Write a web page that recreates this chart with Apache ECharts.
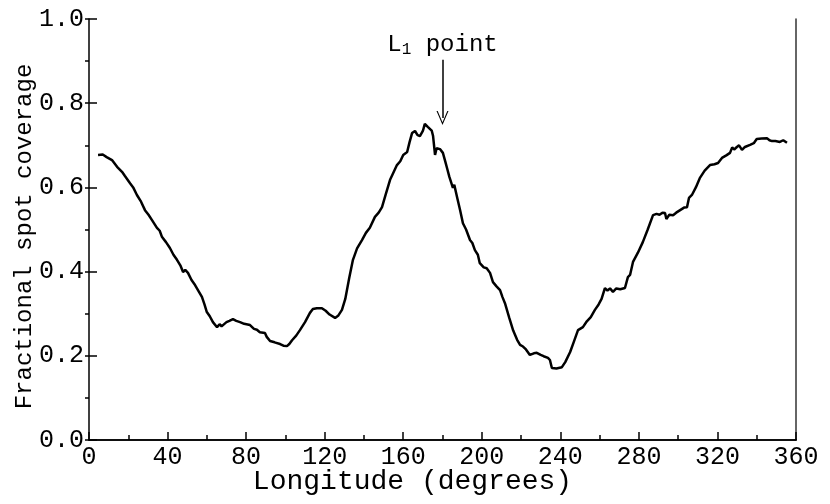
<!DOCTYPE html>
<html>
<head>
<meta charset="utf-8">
<script src="https://cdn.jsdelivr.net/npm/echarts@6/dist/echarts.min.js"></script>
<style>
  html, body { margin: 0; padding: 0; background: #fff; }
  #chart { width: 830px; height: 504px; }
</style>
</head>
<body>
<div id="chart"></div>
<script>
// longitude (degrees) of each sample
const longitude = [
  4.6, 7, 9, 11.7, 14.3, 16.8, 18.3, 20.9, 22.5, 24.4, 26.5, 28.5, 30.3, 32, 34.6, 36, 37.2, 39.2, 41.2, 43,
  44.8, 46.5, 47.9, 49, 50.4, 52.2, 54, 56, 57.5, 58.8, 60, 61.5, 63.1, 65.2, 66.5, 67.5, 68.2, 70, 71.5, 73.3,
  75, 76.9, 79, 82, 84, 85.5, 87, 89.6, 90.5, 92.2, 94.5, 97.3, 99, 100.8, 102, 103.4, 105.5, 107.4, 110, 112.5,
  114, 116, 118.6, 120.5, 122.5, 125.3, 127, 128.8, 130.5, 132.5, 134.4, 136.5, 139, 141, 143, 145.6, 147.5, 149.2, 151.2, 153.3,
  154.5, 155.5, 156.8, 158.5, 160, 162, 163.2, 164.5, 166, 167.3, 168.5, 170, 171, 172.5, 174.5, 175.2, 176.2, 177, 178.7, 180.2,
  181.5, 182.3, 183.5, 185.3, 186, 187.4, 189, 190.4, 192, 194, 195.2, 196.5, 198, 199, 201, 202.5, 204.2, 205.7, 207.5, 209.3,
  210.5, 211.8, 214, 216, 218, 219.5, 221, 222.5, 224.5, 226.5, 228, 230, 231.5, 233.7, 234.7, 235.7, 238, 240.8, 242.5, 245,
  247, 249, 251.5, 253.5, 255.5, 257.6, 259.5, 261, 262.7, 264, 265.3, 266.8, 268.5, 270.5, 272.9, 274.4, 275.5, 277, 279.5, 282,
  284.5, 287.2, 289, 290.5, 292, 293.3, 294, 295.5, 297.4, 299, 301, 303, 304.5, 305.5, 307, 309, 311, 313.5, 316.2, 318.5,
  320.3, 322.3, 324.5, 326.4, 327.5, 328.5, 329.9, 331, 332.5, 334, 336.6, 338.5, 340, 342.5, 345.2, 346.5, 347.8, 349.5, 350.5, 351.8,
  353.5, 355.4
];

// fractional spot coverage at each longitude
const coverage = [
  0.677, 0.678, 0.672, 0.665, 0.649, 0.637, 0.627, 0.610, 0.600, 0.582, 0.566, 0.546, 0.535, 0.523, 0.504, 0.497, 0.482, 0.470, 0.456, 0.440,
  0.428, 0.415, 0.399, 0.404, 0.397, 0.380, 0.368, 0.352, 0.340, 0.322, 0.304, 0.294, 0.280, 0.268, 0.275, 0.270, 0.273, 0.280, 0.283, 0.287,
  0.283, 0.280, 0.276, 0.273, 0.264, 0.262, 0.256, 0.254, 0.245, 0.235, 0.232, 0.228, 0.224, 0.223, 0.228, 0.237, 0.248, 0.261, 0.280, 0.302,
  0.311, 0.313, 0.313, 0.307, 0.298, 0.290, 0.296, 0.309, 0.335, 0.385, 0.428, 0.455, 0.475, 0.492, 0.504, 0.530, 0.540, 0.553, 0.585, 0.618,
  0.630, 0.628, 0.653, 0.662, 0.677, 0.684, 0.707, 0.729, 0.734, 0.724, 0.722, 0.734, 0.751, 0.744, 0.735, 0.722, 0.677, 0.693, 0.691, 0.682,
  0.660, 0.646, 0.625, 0.599, 0.606, 0.577, 0.545, 0.515, 0.500, 0.475, 0.468, 0.451, 0.440, 0.420, 0.410, 0.408, 0.397, 0.375, 0.365, 0.356,
  0.340, 0.325, 0.290, 0.260, 0.238, 0.226, 0.222, 0.215, 0.202, 0.206, 0.207, 0.202, 0.199, 0.195, 0.190, 0.171, 0.170, 0.173, 0.185, 0.209,
  0.235, 0.261, 0.268, 0.282, 0.292, 0.309, 0.322, 0.335, 0.361, 0.355, 0.360, 0.352, 0.360, 0.358, 0.361, 0.387, 0.392, 0.423, 0.445, 0.470,
  0.500, 0.534, 0.537, 0.535, 0.540, 0.539, 0.525, 0.535, 0.534, 0.540, 0.546, 0.552, 0.553, 0.575, 0.582, 0.600, 0.622, 0.640, 0.653, 0.655,
  0.658, 0.670, 0.676, 0.682, 0.695, 0.690, 0.696, 0.700, 0.689, 0.696, 0.701, 0.705, 0.715, 0.716, 0.717, 0.712, 0.710, 0.710, 0.706, 0.708,
  0.712, 0.706
];

// arrow marking the L1 point: [longitude, coverage] of tail and head
const l1Arrow = [[180, 0.903], [180, 0.765]];
const l1Text = 'L1 point';

const FONT = '"Liberation Mono", "DejaVu Sans Mono", monospace';

const chart = echarts.init(document.getElementById('chart'), null, { renderer: 'canvas' });

const seriesData = longitude.map((x, i) => [x, coverage[i]]);

const option = {
  animation: false,
  backgroundColor: '#fff',
  grid: { left: 89, right: 34, top: 19, bottom: 64, containLabel: false, outerBoundsMode: 'none' },
  xAxis: [
    {
      type: 'value',
      min: 0, max: 360, interval: 40,
      name: 'Longitude (degrees)',
      nameLocation: 'middle',
      nameGap: 28,
      nameMoveOverlap: false,
      nameTextStyle: { fontFamily: FONT, fontSize: 28, color: '#000', padding: [0, 60, 0, 0] },
      axisLine: { show: true, lineStyle: { color: '#000', width: 1.5 } },
      axisTick: { show: true, inside: true, length: 8, lineStyle: { color: '#000', width: 1.5 } },
      minorTick: { show: true, splitNumber: 2, length: 5, lineStyle: { color: '#000', width: 1.5 } },
      axisLabel: { fontFamily: FONT, fontSize: 25, color: '#000', margin: 5 },
      splitLine: { show: false }
    },
    {
      type: 'value', position: 'top',
      min: 0, max: 360,
      axisLine: { show: true, lineStyle: { color: '#000', width: 1.5 } },
      axisTick: { show: false }, axisLabel: { show: false }, splitLine: { show: false }
    }
  ],
  yAxis: [
    {
      type: 'value',
      min: 0, max: 1, interval: 0.2,
      name: 'Fractional spot coverage',
      nameLocation: 'middle',
      nameGap: 52,
      nameMoveOverlap: false,
      nameTextStyle: { fontFamily: FONT, fontSize: 24, color: '#000', padding: [0, 14, 0, 0] },
      axisLine: { show: true, lineStyle: { color: '#000', width: 1.5 } },
      axisTick: { show: true, inside: true, length: 8, lineStyle: { color: '#000', width: 1.5 } },
      axisLabel: { fontFamily: FONT, fontSize: 25, color: '#000', margin: 5, formatter: v => v.toFixed(1) },
      splitLine: { show: false }
    },
    {
      // outward half of the ticks
      type: 'value', position: 'left',
      min: 0, max: 1, interval: 0.2,
      axisLine: { show: false },
      axisTick: { show: true, inside: false, length: 4, lineStyle: { color: '#000', width: 1.5 } },
      minorTick: { show: true, splitNumber: 2, length: 4, lineStyle: { color: '#000', width: 1.5 } },
      axisLabel: { show: false }, splitLine: { show: false }
    },
    {
      type: 'value', position: 'right',
      min: 0, max: 1,
      axisLine: { show: true, lineStyle: { color: '#333', width: 1.5 } },
      axisTick: { show: false }, axisLabel: { show: false }, splitLine: { show: false }
    }
  ],
  series: [
    {
      type: 'line',
      data: seriesData,
      showSymbol: false,
      lineStyle: { color: '#000', width: 2.5 },
      markLine: {
        silent: true,
        symbol: ['none', 'path://M0,10 L5,0 L10,10 L9,10 L5,2 L1,10 Z'],
        symbolSize: [12, 14],
        lineStyle: { color: '#000', width: 1.5, type: 'solid' },
        label: {
          show: true,
          position: 'start',
          distance: 2,
          formatter: () => '{a|L}{s|1}{a| point}',
          rich: {
            a: { fontFamily: FONT, fontSize: 24, color: '#000' },
            s: { fontFamily: FONT, fontSize: 16, color: '#000', padding: [10, 0, 0, 0] }
          }
        },
        data: [[{ coord: l1Arrow[0], name: l1Text }, { coord: l1Arrow[1] }]]
      }
    }
  ]
};

chart.setOption(option);
</script>
</body>
</html>
